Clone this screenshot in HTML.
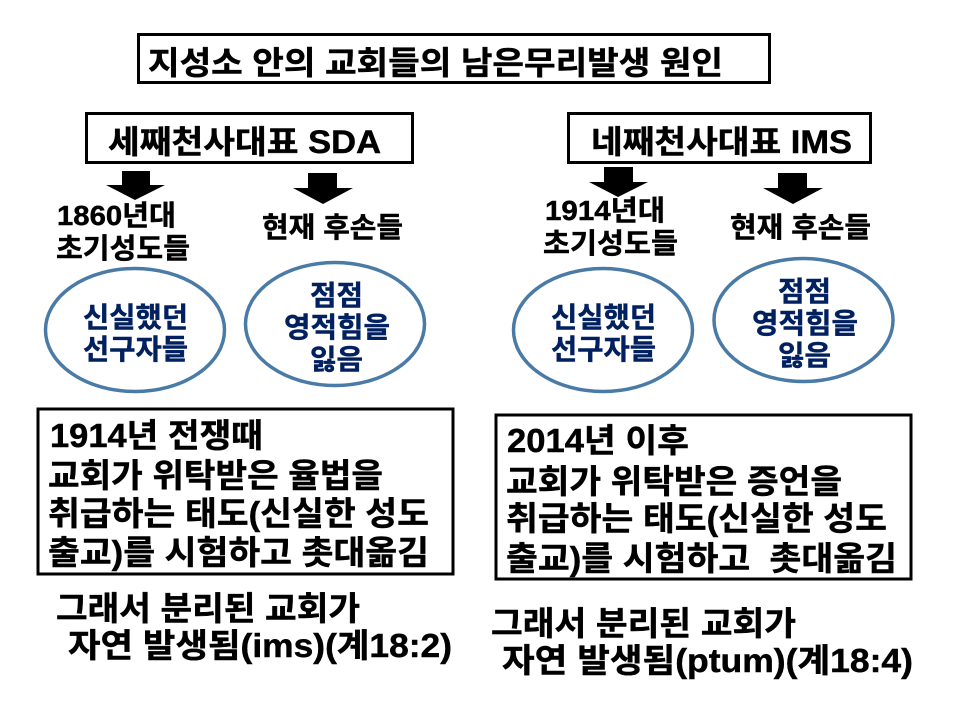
<!DOCTYPE html>
<html lang="ko">
<head>
<meta charset="utf-8">
<style>
html,body{margin:0;padding:0;background:#fff;width:960px;height:720px;overflow:hidden}
svg{display:block}
text{font-family:"Liberation Sans","Noto Sans CJK KR","NanumGothic",sans-serif;font-weight:700;fill:#000;stroke:#000;stroke-width:.45px;white-space:pre}
.n{fill:#002060;stroke:#002060}
</style>
</head>
<body>
<svg width="960" height="720" viewBox="0 0 960 720" xmlns="http://www.w3.org/2000/svg">
<rect width="960" height="720" fill="#fff"/>
<g fill="none" stroke="#000" stroke-width="3">
<rect x="138.500" y="34.500" width="631" height="48"/>
<rect x="86.500" y="113.500" width="326" height="49"/>
<rect x="568.500" y="113.500" width="302" height="49"/>
<rect x="38" y="409" width="415" height="165"/>
<rect x="496" y="415" width="415" height="164"/>
</g>
<g fill="#000">
<polygon points="122,171 150,171 150,185 165,185 135,200 106,185 122,185"/>
<polygon points="308,173 337,173 337,188 353,188 323,204 293,188 308,188"/>
<polygon points="604,167 633,167 633,182 648,182 618,197 589,182 604,182"/>
<polygon points="778,173 807,173 807,188 823,188 793,204 763,188 778,188"/>
</g>
<g fill="none" stroke="#4a7ba6" stroke-width="3.500">
<ellipse cx="135" cy="330" rx="89.500" ry="61.500"/>
<ellipse cx="335" cy="324" rx="89.500" ry="61.500"/>
<ellipse cx="603" cy="330" rx="89.500" ry="61.500"/>
<ellipse cx="803.500" cy="320" rx="89.500" ry="61.500"/>
</g>

<text x="148" y="74" font-size="32" textLength="575" lengthAdjust="spacingAndGlyphs">지성소 안의 교회들의 남은무리발생 원인</text>
<text x="108" y="153" font-size="32" textLength="273" lengthAdjust="spacingAndGlyphs">세째천사대표 SDA</text>
<text x="591" y="153" font-size="32" textLength="261" lengthAdjust="spacingAndGlyphs">네째천사대표 IMS</text>

<text x="57" y="225" font-size="28" textLength="119" lengthAdjust="spacingAndGlyphs">1860년대</text>
<text x="56" y="258" font-size="28" textLength="134" lengthAdjust="spacingAndGlyphs">초기성도들</text>
<text x="262" y="237" font-size="28" textLength="141" lengthAdjust="spacingAndGlyphs">현재 후손들</text>
<text x="545" y="220" font-size="28" textLength="120" lengthAdjust="spacingAndGlyphs">1914년대</text>
<text x="543" y="253" font-size="28" textLength="135" lengthAdjust="spacingAndGlyphs">초기성도들</text>
<text x="730" y="237" font-size="28" textLength="141" lengthAdjust="spacingAndGlyphs">현재 후손들</text>

<text class="n" x="83" y="327" font-size="28" textLength="105" lengthAdjust="spacingAndGlyphs">신실했던</text>
<text class="n" x="83" y="359" font-size="28" textLength="105" lengthAdjust="spacingAndGlyphs">선구자들</text>
<text class="n" x="310" y="305" font-size="28" textLength="53" lengthAdjust="spacingAndGlyphs">점점</text>
<text class="n" x="284" y="337" font-size="28" textLength="106" lengthAdjust="spacingAndGlyphs">영적힘을</text>
<text class="n" x="310" y="369" font-size="28" textLength="53" lengthAdjust="spacingAndGlyphs">잃음</text>
<text class="n" x="551" y="327" font-size="28" textLength="105" lengthAdjust="spacingAndGlyphs">신실했던</text>
<text class="n" x="551" y="359" font-size="28" textLength="105" lengthAdjust="spacingAndGlyphs">선구자들</text>
<text class="n" x="778" y="301" font-size="28" textLength="53" lengthAdjust="spacingAndGlyphs">점점</text>
<text class="n" x="752" y="333" font-size="28" textLength="106" lengthAdjust="spacingAndGlyphs">영적힘을</text>
<text class="n" x="778" y="365" font-size="28" textLength="53" lengthAdjust="spacingAndGlyphs">잃음</text>

<text x="50" y="447" font-size="33" textLength="213" lengthAdjust="spacingAndGlyphs">1914년 전쟁때</text>
<text x="48" y="487" font-size="33" textLength="335" lengthAdjust="spacingAndGlyphs">교회가 위탁받은 율법을</text>
<text x="48" y="525" font-size="33" textLength="381" lengthAdjust="spacingAndGlyphs">취급하는 태도(신실한 성도</text>
<text x="48" y="564" font-size="33" textLength="381" lengthAdjust="spacingAndGlyphs">출교)를 시험하고 촛대옮김</text>

<text x="507" y="452" font-size="33" textLength="182" lengthAdjust="spacingAndGlyphs">2014년 이후</text>
<text x="506" y="493" font-size="33" textLength="336" lengthAdjust="spacingAndGlyphs">교회가 위탁받은 증언을</text>
<text x="506" y="530" font-size="33" textLength="381" lengthAdjust="spacingAndGlyphs">취급하는 태도(신실한 성도</text>
<text x="506" y="570" font-size="33" textLength="391" lengthAdjust="spacingAndGlyphs" xml:space="preserve">출교)를 시험하고  촛대옮김</text>

<text x="56" y="620" font-size="33" textLength="304" lengthAdjust="spacingAndGlyphs">그래서 분리된 교회가</text>
<text x="68" y="657" font-size="33" textLength="384" lengthAdjust="spacingAndGlyphs">자연 발생됨(ims)(계18:2)</text>
<text x="491" y="635" font-size="33" textLength="305" lengthAdjust="spacingAndGlyphs">그래서 분리된 교회가</text>
<text x="502" y="672" font-size="33" textLength="411" lengthAdjust="spacingAndGlyphs">자연 발생됨(ptum)(계18:4)</text>
</svg>
</body>
</html>
